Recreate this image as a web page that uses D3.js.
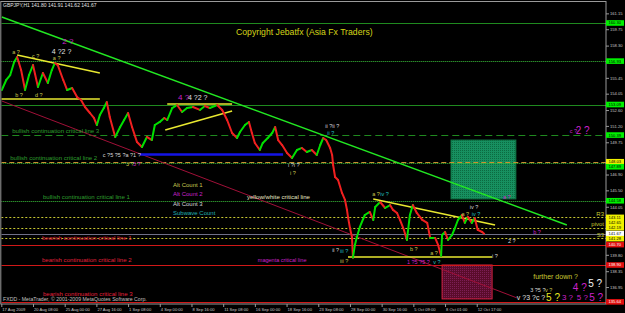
<!DOCTYPE html>
<html>
<head>
<meta charset="utf-8">
<script src="https://cdn.jsdelivr.net/npm/d3@7"></script>
<style>
    html, body { margin: 0; padding: 0; background: #000; }
    svg { display: block; font-family: "Liberation Sans", Arial, sans-serif; }
</style>
</head>
<body>
<div id="chart"></div>
<script>
// GBPJPY H1, bar index counted from the first visible bar, close price
const priceBars = [1, 10, 18, 26, 32, 40, 48, 56, 64, 74, 84, 94, 102, 108, 114, 125, 133, 143, 153, 161,
    169, 179, 187, 193, 199, 207, 213, 219, 230, 240, 248, 256, 264, 274, 284, 294, 304, 310, 320, 329,
    335, 345, 355, 365, 375, 387, 401, 411, 421, 436, 446, 456, 466, 476, 482, 492, 500, 506, 512, 522,
    528, 538, 547, 553, 559, 567, 577, 587, 597, 607, 617, 627, 637, 644, 650, 656, 664, 668, 670, 674,
    680, 688, 694, 698, 700, 704, 708, 710, 714, 718, 724, 734, 744, 751, 755, 765, 775, 785, 791, 799,
    805, 813, 819, 825, 831, 839, 850, 860, 866, 876, 882, 888, 890, 896, 902, 910, 916, 922, 930, 936,
    942, 950, 956, 962, 971, 975];
const priceCloses = [154.37, 155.26, 155.70, 156.85, 157.29, 156.14, 154.37, 155.70, 156.58, 154.64, 155.88, 154.99, 156.14, 156.76, 156.58, 155.26, 154.37, 154.55, 153.75, 153.49,
    152.87, 152.34, 151.90, 151.28, 152.16, 152.78, 153.31, 151.99, 150.22, 151.10, 151.72, 152.34, 151.10, 149.77, 149.33, 150.22, 149.95, 151.28, 151.55, 151.90,
    151.72, 152.78, 153.05, 152.43, 152.78, 152.87, 152.61, 152.96, 152.78, 153.05, 152.61, 151.72, 150.57, 150.13, 150.66, 151.28, 151.55, 150.57, 149.69, 149.07,
    149.69, 150.13, 150.57, 151.10, 149.95, 149.51, 148.80, 148.36, 149.07, 149.25, 148.89, 149.07, 148.63, 149.51, 150.13, 149.95, 149.25, 148.63, 147.74, 146.68,
    146.42, 145.27, 144.65, 143.77, 143.15, 142.17, 141.38, 139.55, 140.67, 141.38, 142.26, 143.32, 143.59, 142.88, 144.03, 144.47, 143.94, 144.20, 143.77, 143.50,
    142.88, 142.00, 141.11, 143.32, 144.20, 143.50, 142.88, 142.62, 141.29, 141.29, 140.67, 139.70, 141.55, 141.82, 141.11, 141.55, 142.17, 142.88, 143.32, 142.62,
    143.15, 142.62, 143.06, 142.00, 141.82, 141.67];

const xTickBars = [0, 64, 128, 192, 256, 320, 384, 448, 512, 576, 640, 704, 768, 832, 896, 960];
const xTickLabels = ['17 Aug 2009', '20 Aug 08:00', '25 Aug 00:00', '27 Aug 16:00', '1 Sep 08:00', '4 Sep 00:00',
    '8 Sep 16:00', '11 Sep 08:00', '16 Sep 00:00', '18 Sep 16:00', '23 Sep 08:00', '28 Sep 00:00',
    '30 Sep 16:00', '5 Oct 09:00', '8 Oct 01:00', '12 Oct 17:00'];
const yTickValues = [161.15, 159.75, 158.30, 156.90, 155.45, 154.05, 152.60, 151.20, 149.75, 148.35,
    146.90, 145.50, 144.05, 142.65, 141.20, 139.80, 138.35, 136.95, 135.50];

// horizontal levels
const levelPrices = [160.30, 156.93, 153.09, 150.39, 148.03, 147.89, 144.58, 143.11, 142.19, 141.67, 141.28, 140.70, 138.90, 135.64];
const levelKinds = ['green', 'greenDot', 'green', 'greenDash', 'orangeDash', 'greenDot', 'greenDot',
    'yellowDot', 'yellowDot', 'bid', 'yellowDot', 'red', 'red', 'red'];
// price tags on the right scale
const tagPrices = [160.30, 156.93, 153.09, 150.39, 148.03, 147.89, 144.58, 143.11, 142.65, 142.19, 141.67, 141.28, 140.70, 138.90, 135.64];
const tagKinds = ['green', 'green', 'green', 'green', 'yellow', 'green', 'green', 'yellow', 'yellow', 'yellow', 'white', 'yellow', 'red', 'red', 'red'];
const pivotNames = ['R3', 'pivot', 'S3'];
const pivotPrices = [143.11, 142.19, 141.28];

// trend lines [bar, price] -> [bar, price]
const trendFrom = [[1, 160.83], [1, 153.40], [32, 157.47], [0, 153.58], [335, 153.14], [331, 150.84], [751, 144.74], [700, 139.61], [280, 148.67]];
const trendTo = [[1142, 142.44], [1041, 135.99], [199, 155.88], [199, 153.58], [466, 153.14], [466, 152.52], [997, 142.44], [991, 139.61], [569, 148.67]];
const trendKinds = ['green', 'maroon', 'yellow', 'yellow', 'yellow', 'yellow', 'yellow', 'yellow', 'blue'];

// target zones [bar0, bar1, priceTop, priceBottom]
const zoneBounds = [[908, 1039, 149.95, 144.74], [890, 991, 138.90, 135.90]];
const zoneKinds = ['greenZone', 'redZone'];

// wave count notes [bar, price, text, kind]
const waveNotes = [
    [22, 157.56, 'a ?', 'olive'], [62, 157.20, 'c ?', 'olive'], [102, 157.56, '4 ?2 ?', 'whiteMid'],
    [123, 158.40, '2 ?', 'magentaMid'], [104, 157.03, 'a ?', 'olive'], [28, 153.75, 'b ?', 'olive'],
    [68, 153.75, 'd ?', 'olive'], [357, 153.53, '4 ?', 'magentaMid'], [377, 153.53, '4 ?2 ?', 'whiteMid'],
    [205, 148.45, 'c ?5 ?5 ?a ?1 ?', 'white'], [252, 147.66, '3 ?', 'olive'], [266, 147.66, '3 ?', 'magenta'],
    [654, 151.01, 'ii ?ii ?', 'white'], [658, 150.40, 'ii ?', 'cyan'], [579, 147.57, 'i ?i ?', 'white'],
    [583, 146.86, 'i ?', 'olive'], [749, 145.00, 'a ?', 'olive'], [765, 145.00, 'iv ?', 'cyan'],
    [668, 140.05, 'ii ?', 'white'], [684, 139.96, 'iii ?', 'cyan'], [684, 139.08, 'iii ?', 'olive'],
    [946, 143.85, 'iv ?', 'white'], [929, 143.24, 'a ?', 'olive'], [950, 143.24, 'iv ?', 'cyan'],
    [1013, 144.74, 'a ?', 'magenta'], [1148, 150.57, 'c ?', 'magenta'], [1160, 150.48, '2 ?', 'magentaBig'],
    [1074, 141.64, 'b ?', 'magenta'], [1023, 140.85, '2 ?', 'white'], [825, 140.14, 'b ?', 'olive'],
    [866, 139.79, 'a ?', 'olive'], [991, 139.52, 'i ?', 'white'], [819, 138.99, '1 ?5 ?5 ?', 'magenta'],
    [872, 138.99, 'v ?', 'cyan'], [1074, 137.67, 'further down ?', 'oliveMid'], [1068, 136.52, '3 ?5 ?', 'white'],
    [1098, 136.52, 'v ?', 'olive'], [1154, 136.61, '4 ?', 'magentaBig'], [1185, 136.96, '5 ?', 'whiteBig'],
    [1041, 135.81, 'v ?3 ?c ?', 'whiteMid'], [1100, 135.72, '5 ?', 'yellowBig'], [1132, 135.81, '3 ?', 'magentaMid'],
    [1162, 135.81, '5 ?', 'magentaMid'], [1187, 135.72, '5 ?', 'magentaBig']
];
// level captions [bar, price, text, kind]
const lineNotes = [
    [22, 150.57, 'bullish continuation critical line 3', 'bull'],
    [18, 148.19, 'bullish continuation critical line 2', 'bull'],
    [84, 144.74, 'bullish continuation critical line 1', 'bull'],
    [496, 144.74, 'yellow/white critical line', 'pale'],
    [82, 141.11, 'bearish continuation critical line 1', 'bear'],
    [82, 139.17, 'bearish continuation critical line 2', 'bear'],
    [84, 136.16, 'bearish continuation critical line 3', 'bear'],
    [518, 139.17, 'magenta critical line', 'magenta']
];
const legendLabels = ['Alt Count 1', 'Alt Count 2', 'Alt Count 3', 'Subwave Count'];
const legendKinds = ['olive', 'magenta', 'white', 'teal'];

const TEXT = {
    olive: ['#c8c850', 5.5], oliveMid: ['#c8c832', 7], white: ['#d8d8d8', 5.5], whiteMid: ['#e0e0e0', 7],
    whiteBig: ['#f0f0f0', 10], magenta: ['#cc22cc', 5.5], magentaMid: ['#cc22cc', 8], magentaBig: ['#cc22cc', 10],
    cyan: ['#20c0c0', 5.5], yellowBig: ['#e8e820', 10], bull: ['#2e9e2e', 6.1], pale: ['#e6e6c0', 6.1],
    bear: ['#e0203c', 6.1], teal: ['#20b0b0', 6]
};
const LINE = {
    green: { stroke: '#1f8a1f', dash: null, w: 1 },
    greenDot: { stroke: '#3cc43c', dash: '1,1', w: 1 },
    greenDash: { stroke: '#1f8a1f', dash: '7,4', w: 1 },
    orangeDash: { stroke: '#c89030', dash: '5,3', w: 1 },
    yellowDot: { stroke: '#c8c832', dash: '2,2', w: 1 },
    bid: { stroke: '#707088', dash: null, w: 1 },
    red: { stroke: '#d01818', dash: null, w: 1 }
};
const TREND = {
    green: { stroke: '#22e822', w: 1.5 }, maroon: { stroke: '#a01038', w: 1 },
    yellow: { stroke: '#e8e830', w: 1.5 }, blue: { stroke: '#1414e6', w: 2.5 }
};
const TAG = { green: ['#00f000', '#000'], yellow: ['#f0f000', '#000'], white: ['#ffffff', '#000'], red: ['#e01010', '#fff'] };

const WIDTH = 625, HEIGHT = 313;
const MARGIN = { TOP: 1.5, BOTTOM: 304, LEFT: 1.3, RIGHT: 606 };
const AXIS_FONT = 4.1;

const x = d3.scaleLinear().domain([0, 1221]).range([MARGIN.LEFT, MARGIN.RIGHT]);
const y = d3.scaleLinear().domain([135.45, 162.20]).range([MARGIN.BOTTOM, MARGIN.TOP]);

const svg = d3.select('#chart')
    .append('svg')
    .attr('width', WIDTH)
    .attr('height', HEIGHT);

svg.append('rect').attr('width', WIDTH).attr('height', HEIGHT).attr('fill', '#000');

const defs = svg.append('defs');
defs.append('clipPath').attr('id', 'plot')
    .append('rect')
    .attr('x', MARGIN.LEFT).attr('y', MARGIN.TOP)
    .attr('width', MARGIN.RIGHT - MARGIN.LEFT).attr('height', MARGIN.BOTTOM - MARGIN.TOP);

// stippled fills for the zones
function stipple(id, base, dot) {
    const p = defs.append('pattern').attr('id', id)
        .attr('width', 2).attr('height', 2).attr('patternUnits', 'userSpaceOnUse');
    p.append('rect').attr('width', 2).attr('height', 2).attr('fill', base);
    p.append('rect').attr('width', 1).attr('height', 1).attr('fill', dot);
}
stipple('greenZone', '#179060', '#0c6a40');
stipple('redZone', '#5a0c2a', '#7c1e56');
const ZONE = { greenZone: '#0e7040', redZone: '#d02040' };

const plot = svg.append('g').attr('clip-path', 'url(#plot)');

// zones
plot.selectAll('rect.zone')
    .data(zoneBounds)
    .enter()
    .append('rect')
    .attr('class', 'zone')
    .attr('x', d => x(d[0]))
    .attr('y', d => y(d[2]))
    .attr('width', d => x(d[1]) - x(d[0]))
    .attr('height', d => y(d[3]) - y(d[2]))
    .attr('fill', (d, i) => `url(#${zoneKinds[i]})`)
    .attr('stroke', (d, i) => ZONE[zoneKinds[i]])
    .attr('stroke-width', 1);

// horizontal levels
plot.selectAll('line.level')
    .data(levelPrices)
    .enter()
    .append('line')
    .attr('class', 'level')
    .attr('x1', MARGIN.LEFT).attr('x2', MARGIN.RIGHT)
    .attr('y1', d => Math.round(y(d)) + 0.5)
    .attr('y2', d => Math.round(y(d)) + 0.5)
    .attr('stroke', (d, i) => LINE[levelKinds[i]].stroke)
    .attr('stroke-width', (d, i) => LINE[levelKinds[i]].w)
    .attr('stroke-dasharray', (d, i) => LINE[levelKinds[i]].dash);

// trend lines
plot.selectAll('line.trend')
    .data(trendFrom)
    .enter()
    .append('line')
    .attr('class', 'trend')
    .attr('x1', d => x(d[0]))
    .attr('y1', d => y(d[1]))
    .attr('x2', (d, i) => x(trendTo[i][0]))
    .attr('y2', (d, i) => y(trendTo[i][1]))
    .attr('stroke', (d, i) => TREND[trendKinds[i]].stroke)
    .attr('stroke-width', (d, i) => TREND[trendKinds[i]].w);

// price: up legs green, down legs red
const legs = d3.range(1, priceBars.length);
plot.selectAll('line.leg')
    .data(legs)
    .enter()
    .append('line')
    .attr('class', 'leg')
    .attr('x1', i => x(priceBars[i - 1]))
    .attr('y1', i => y(priceCloses[i - 1]))
    .attr('x2', i => x(priceBars[i]))
    .attr('y2', i => y(priceCloses[i]))
    .attr('stroke', i => priceCloses[i] >= priceCloses[i - 1] ? '#00e000' : '#f02020')
    .attr('stroke-width', 2)
    .attr('stroke-linecap', 'round');

// captions
function notes(rows, cls) {
    plot.selectAll('text.' + cls)
        .data(rows)
        .enter()
        .append('text')
        .attr('class', cls)
        .attr('x', d => x(d[0]))
        .attr('y', d => y(d[1]))
        .attr('fill', d => TEXT[d[3]][0])
        .attr('font-size', d => TEXT[d[3]][1])
        .text(d => d[2]);
}
notes(lineNotes, 'line-note');
notes(waveNotes, 'wave-note');

plot.selectAll('text.pivot')
    .data(pivotPrices)
    .enter()
    .append('text')
    .attr('class', 'pivot')
    .attr('x', MARGIN.RIGHT - 2)
    .attr('y', d => y(d) - 1.5)
    .attr('text-anchor', 'end')
    .attr('fill', '#c8c832')
    .attr('font-size', 6)
    .text((d, i) => pivotNames[i]);

// frame
svg.append('rect')
    .attr('x', MARGIN.LEFT - 0.5).attr('y', MARGIN.TOP)
    .attr('width', MARGIN.RIGHT - MARGIN.LEFT + 0.5).attr('height', MARGIN.BOTTOM - MARGIN.TOP)
    .attr('fill', 'none').attr('stroke', '#9a9a9a').attr('stroke-width', 1);

// tag positions, pushed apart a little like the terminal does
const tagY = tagPrices.map(d => y(d));
for (let i = 1; i < tagY.length; i++) {
    if (tagY[i] - tagY[i - 1] < 5) tagY[i] = tagY[i - 1] + 5;
}
// tick labels that sit under a tag are hidden by it
const shownTicks = yTickValues.filter(v => tagY.every(t => Math.abs(t - y(v)) > 4.5));

// axes
const yAxisGroup = svg.append('g')
    .attr('transform', `translate(${MARGIN.RIGHT}, 0)`)
    .call(d3.axisRight(y).tickValues(shownTicks).tickFormat(d3.format('.2f')).tickSize(3).tickPadding(1));
const xAxisGroup = svg.append('g')
    .attr('transform', `translate(0, ${MARGIN.BOTTOM})`)
    .call(d3.axisBottom(x).tickValues(xTickBars).tickFormat((d, i) => xTickLabels[i]).tickSize(3).tickPadding(1));
[yAxisGroup, xAxisGroup].forEach(g => {
    g.select('.domain').remove();
    g.selectAll('line').attr('stroke', '#9a9a9a');
    g.selectAll('text').attr('fill', '#c8c8c8').attr('font-size', AXIS_FONT)
        .attr('font-family', '"Liberation Sans", Arial, sans-serif');
});
xAxisGroup.selectAll('text').attr('text-anchor', 'start').attr('dx', 0.5);

// price tags
const tags = svg.selectAll('g.tag')
    .data(tagPrices)
    .enter()
    .append('g')
    .attr('class', 'tag')
    .attr('transform', (d, i) => `translate(${MARGIN.RIGHT}, ${tagY[i]})`);
tags.append('rect')
    .attr('x', 0).attr('y', -2.8).attr('width', 18).attr('height', 5.6)
    .attr('fill', (d, i) => TAG[tagKinds[i]][0]);
tags.append('text')
    .attr('x', 2.5).attr('y', 1.5)
    .attr('font-size', AXIS_FONT)
    .attr('fill', (d, i) => TAG[tagKinds[i]][1])
    .text(d => d.toFixed(2));

// screen labels
svg.append('text').attr('x', 3).attr('y', 7).attr('fill', '#e0e0e0').attr('font-size', 5)
    .text('GBPJPY,H1  141.80 141.91 141.62 141.67');
svg.append('text').attr('x', 236).attr('y', 35).attr('fill', '#d4d418').attr('font-size', 8.7)
    .text('Copyright Jebatfx (Asia Fx Traders)');
svg.selectAll('text.legend')
    .data(legendLabels)
    .enter()
    .append('text')
    .attr('class', 'legend')
    .attr('x', 173)
    .attr('y', (d, i) => 186.5 + i * 9.5)
    .attr('fill', (d, i) => TEXT[legendKinds[i]][0])
    .attr('font-size', 6)
    .text(d => d);
svg.append('text').attr('x', 3).attr('y', 301).attr('fill', '#c0c0c0').attr('font-size', 5.2)
    .text('FXDD - MetaTrader, \u00a9 2001-2009 MetaQuotes Software Corp.');
</script>
</body>
</html>
